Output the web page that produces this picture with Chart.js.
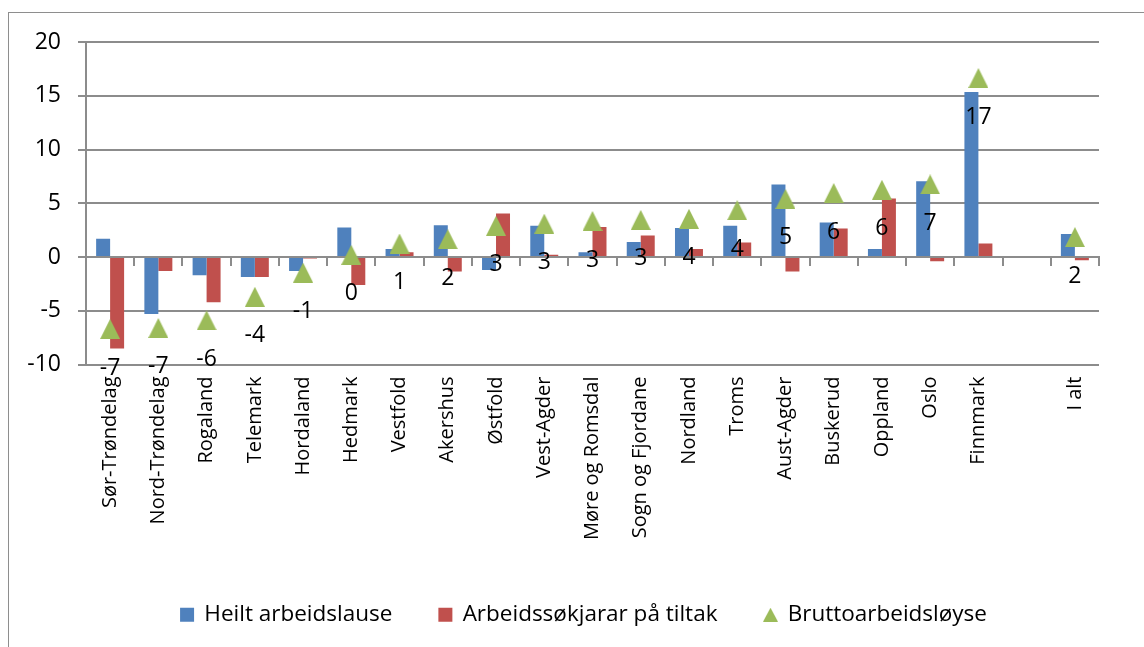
<!DOCTYPE html>
<html>
<head>
<meta charset="utf-8">
<script src="https://cdn.jsdelivr.net/npm/chart.js@4/dist/chart.umd.min.js"></script>
<style>
  html, body { margin: 0; padding: 0; background: #fff; overflow: hidden; }
  #wrap { position: relative; width: 1144px; height: 647px; }
  #frame { position: absolute; left: 8px; top: 12px; width: 1200px; height: 700px; border: 1px solid #8e8e8e; box-sizing: border-box; }
  canvas { position: absolute; left: 0; top: 0; }
</style>
</head>
<body>
<div id="wrap">
  <div id="frame"></div>
  <canvas id="c" width="1144" height="647"></canvas>
</div>
<script>
const categories = ['Sør-Trøndelag', 'Nord-Trøndelag', 'Rogaland', 'Telemark', 'Hordaland', 'Hedmark', 'Vestfold', 'Akershus', 'Østfold', 'Vest-Agder', 'Møre og Romsdal', 'Sogn og Fjordane', 'Nordland', 'Troms', 'Aust-Agder', 'Buskerud', 'Oppland', 'Oslo', 'Finnmark', '', 'I alt'];
const heiltArbeidslause = [1.7, -5.3, -1.7, -1.85, -1.3, 2.75, 0.75, 2.95, -1.2, 2.9, 0.45, 1.4, 2.7, 2.9, 6.75, 3.2, 0.75, 7.05, 15.35, null, 2.15];
const paaTiltak = [-8.5, -1.3, -4.2, -1.85, -0.15, -2.6, 0.45, -1.35, 4.05, 0.2, 2.8, 2.0, 0.75, 1.35, -1.35, 2.65, 5.45, -0.4, 1.25, null, -0.3];
const brutto = [-6.7, -6.6, -5.9, -3.7, -1.45, 0.2, 1.25, 1.65, 2.9, 3.1, 3.35, 3.45, 3.55, 4.35, 5.4, 5.95, 6.25, 6.75, 16.65, null, 1.85];
const seriesNames = ['Heilt arbeidslause', 'Arbeidssøkjarar på tiltak', 'Bruttoarbeidsløyse'];
const yTicks = { min: -10, max: 20, step: 5 };

const BLUE = '#4F81BD', RED = '#C0504D', GREEN = '#9BBB59', GRID = '#8c8c8c';

function triangle(w, h, color) {
  const c = document.createElement('canvas');
  c.width = w; c.height = h;
  const g = c.getContext('2d');
  g.fillStyle = color;
  g.beginPath();
  g.moveTo(w / 2, 0); g.lineTo(w, h); g.lineTo(0, h); g.closePath();
  g.fill();
  return c;
}
const triMarker = triangle(20, 20, GREEN);
const triLegend = triangle(15, 14, GREEN);

Chart.defaults.font.family = "'Open Sans', sans-serif";
Chart.defaults.color = '#000';

const valueLabels = {
  id: 'valueLabels',
  afterDatasetsDraw(chart) {
    const meta = chart.getDatasetMeta(2);
    const ctx = chart.ctx;
    ctx.save();
    ctx.font = "23px 'Open Sans', sans-serif";
    ctx.fillStyle = '#000';
    ctx.textAlign = 'center';
    ctx.textBaseline = 'middle';
    meta.data.forEach((pt, i) => {
      const v = brutto[i];
      if (v === null || v === undefined) return;
      ctx.fillText(String(Math.round(v)), pt.x, pt.y + 39);
    });
    ctx.restore();
  }
};

// centre the legend under the plot the way the original does
const legendShift = {
  id: 'legendShift',
  afterLayout(chart) {
    const lg = chart.legend;
    if (!lg) return;
    const d = 34.5;
    lg.left += d; lg.right += d;
  }
};

new Chart(document.getElementById('c'), {
  type: 'bar',
  data: {
    labels: categories,
    datasets: [
      { label: seriesNames[0], data: heiltArbeidslause, backgroundColor: BLUE, pointStyle: 'rect', categoryPercentage: 0.58, barPercentage: 1, order: 1, xAxisID: 'x' },
      { label: seriesNames[1], data: paaTiltak, backgroundColor: RED, pointStyle: 'rect', categoryPercentage: 0.58, barPercentage: 1, order: 1, xAxisID: 'x' },
      { type: 'line', label: seriesNames[2], data: brutto, showLine: false, pointStyle: triMarker, pointRadius: 10, pointHoverRadius: 10, backgroundColor: GREEN, borderColor: GREEN, order: 0, xAxisID: 'x' }
    ]
  },
  options: {
    responsive: false,
    animation: false,
    events: [],
    layout: { padding: { left: 0, right: 45, top: 42, bottom: 11 } },
    scales: {
      x: {
        type: 'category',
        position: 'bottom',
        offset: true,
        grid: { display: false, drawTicks: false },
        border: { display: false },
        ticks: { minRotation: 90, maxRotation: 90, autoSkip: false, padding: 12, font: { size: 20 }, color: '#000' },
        afterFit(s) { s.height = 192; }
      },
      x2: {
        type: 'category',
        labels: categories,
        position: { y: 0 },
        offset: true,
        grid: { display: true, offset: true, drawOnChartArea: false, drawTicks: true, tickLength: 8, color: GRID, lineWidth: 2 },
        border: { display: true, color: GRID, width: 2 },
        ticks: { display: false }
      },
      y: {
        min: yTicks.min, max: yTicks.max,
        ticks: { stepSize: yTicks.step, padding: 17, font: { size: 23 }, color: '#000' },
        grid: { color: GRID, lineWidth: 2, drawTicks: true, tickLength: 8 },
        border: { display: true, color: GRID, width: 2 },
        afterFit(s) { s.width = 86; }
      }
    },
    plugins: {
      tooltip: { enabled: false },
      legend: {
        position: 'bottom',
        labels: {
          usePointStyle: true,
          boxWidth: 12,
          boxHeight: 14,
          padding: 47,
          font: { size: 22.5 },
          color: '#000',
          sort: (a, b) => a.datasetIndex - b.datasetIndex,
          generateLabels(chart) {
            const items = Chart.defaults.plugins.legend.labels.generateLabels(chart);
            items.forEach(it => { if (it.datasetIndex === 2) it.pointStyle = triLegend; it.lineWidth = 0; });
            return items;
          }
        }
      }
    }
  },
  plugins: [valueLabels, legendShift]
});
</script>
</body>
</html>
